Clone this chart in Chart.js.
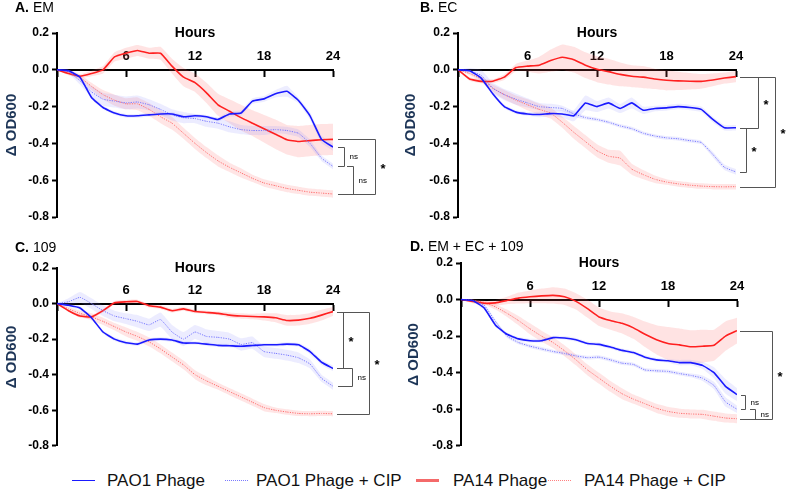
<!DOCTYPE html>
<html>
<head>
<meta charset="utf-8">
<script src="https://cdn.jsdelivr.net/npm/chart.js@4.4.0/dist/chart.umd.min.js"></script>
<style>
  body { margin: 0; background: #fff; width: 786px; height: 490px; position: relative; overflow: hidden;
         font-family: "Liberation Sans", Arial, sans-serif; }
  canvas { position: absolute; }
  .sw { position: absolute; height: 0; width: 23px; }
  .lt { position: absolute; font-size: 17px; color: #111; line-height: 20px; top: 471px; white-space: nowrap; }
</style>
</head>
<body>
<canvas id="cA" width="393" height="228" style="left:0;top:0"></canvas>
<canvas id="cB" width="393" height="228" style="left:393px;top:0"></canvas>
<canvas id="cC" width="393" height="228" style="left:0;top:228px"></canvas>
<canvas id="cD" width="393" height="228" style="left:393px;top:228px"></canvas>

<div class="sw" style="left:72px;top:480px;border-top:1.6px solid #1a1aff"></div>
<div class="lt" style="left:107px">PAO1 Phage</div>
<div class="sw" style="left:225px;top:480px;border-top:1px dotted #7a7aff"></div>
<div class="lt" style="left:256px">PAO1 Phage + CIP</div>
<div class="sw" style="left:416px;top:479px;border-top:3px solid #f46a6a"></div>
<div class="lt" style="left:453px">PA14 Phage</div>
<div class="sw" style="left:548px;top:480px;border-top:1px dotted #ff8080"></div>
<div class="lt" style="left:584px">PA14 Phage + CIP</div>

<script>
// time axis (hours)
const hours = [0,1,2,3,4,5,6,7,8,9,10,11,12,13,14,15,16,17,18,19,20,21,22,23,24];
const seriesNames = ['PAO1 Phage', 'PAO1 Phage + CIP', 'PA14 Phage', 'PA14 Phage + CIP'];

// A. EM
const emPAO1     = [0,-0.005,-0.04,-0.15,-0.205,-0.235,-0.25,-0.25,-0.245,-0.24,-0.24,-0.255,-0.25,-0.255,-0.27,-0.24,-0.235,-0.17,-0.158,-0.13,-0.117,-0.167,-0.25,-0.378,-0.42];
const emPAO1Cip  = [0,-0.01,-0.06,-0.12,-0.16,-0.17,-0.18,-0.175,-0.19,-0.215,-0.245,-0.26,-0.265,-0.28,-0.29,-0.31,-0.325,-0.33,-0.33,-0.325,-0.33,-0.345,-0.4,-0.48,-0.525];
const emPA14     = [0,-0.02,-0.035,-0.02,0,0.07,0.09,0.105,0.09,0.09,0.02,-0.04,-0.07,-0.125,-0.19,-0.225,-0.26,-0.29,-0.32,-0.35,-0.38,-0.39,-0.385,-0.38,-0.378];
const emPA14Cip  = [0,-0.01,-0.04,-0.09,-0.135,-0.165,-0.185,-0.185,-0.215,-0.255,-0.29,-0.345,-0.4,-0.45,-0.495,-0.53,-0.56,-0.59,-0.615,-0.63,-0.645,-0.655,-0.665,-0.67,-0.675];
const emPAO1Err    = [0,0.005,0.01,0.01,0.01,0.01,0.01,0.01,0.01,0.01,0.01,0.01,0.01,0.01,0.01,0.015,0.015,0.015,0.015,0.02,0.03,0.015,0.02,0.02,0.02];
const emPAO1CipErr = [0,0.01,0.02,0.03,0.035,0.035,0.035,0.035,0.03,0.03,0.03,0.03,0.025,0.03,0.03,0.03,0.025,0.025,0.025,0.02,0.02,0.02,0.02,0.015,0.015];
const emPA14Err    = [0,0.01,0.01,0.015,0.02,0.025,0.03,0.03,0.03,0.035,0.04,0.05,0.05,0.055,0.06,0.065,0.07,0.07,0.075,0.08,0.08,0.085,0.085,0.085,0.085];
const emPA14CipErr = [0,0.01,0.015,0.02,0.025,0.03,0.03,0.035,0.035,0.035,0.035,0.03,0.03,0.03,0.03,0.025,0.025,0.02,0.02,0.02,0.02,0.02,0.02,0.02,0.02];

// B. EC
const ecPAO1     = [0,-0.005,-0.045,-0.13,-0.2,-0.23,-0.24,-0.243,-0.238,-0.24,-0.25,-0.18,-0.2,-0.18,-0.21,-0.18,-0.22,-0.21,-0.207,-0.2,-0.205,-0.215,-0.27,-0.315,-0.315];
const ecPAO1Cip  = [0,-0.005,-0.03,-0.1,-0.135,-0.16,-0.18,-0.2,-0.205,-0.21,-0.24,-0.26,-0.27,-0.285,-0.305,-0.32,-0.345,-0.36,-0.37,-0.375,-0.385,-0.395,-0.46,-0.53,-0.555];
const ecPA14     = [0,-0.05,-0.063,-0.062,-0.04,0.012,0.02,0.025,0.05,0.068,0.055,0.025,0.003,-0.01,-0.025,-0.035,-0.04,-0.05,-0.057,-0.06,-0.062,-0.063,-0.055,-0.045,-0.037];
const ecPA14Cip  = [0,-0.02,-0.05,-0.1,-0.135,-0.165,-0.19,-0.215,-0.235,-0.285,-0.34,-0.39,-0.44,-0.47,-0.48,-0.54,-0.57,-0.595,-0.61,-0.62,-0.627,-0.632,-0.635,-0.636,-0.635];
const ecPAO1Err    = [0,0.005,0.01,0.01,0.01,0.01,0.01,0.015,0.015,0.02,0.03,0.04,0.03,0.03,0.025,0.03,0.02,0.015,0.015,0.015,0.015,0.015,0.015,0.015,0.015];
const ecPAO1CipErr = [0,0.015,0.03,0.03,0.03,0.03,0.025,0.02,0.02,0.015,0.015,0.01,0.01,0.01,0.01,0.01,0.01,0.01,0.01,0.01,0.01,0.01,0.015,0.015,0.015];
const ecPA14Err    = [0,0.01,0.01,0.01,0.015,0.02,0.03,0.045,0.06,0.07,0.07,0.07,0.07,0.07,0.065,0.06,0.06,0.055,0.055,0.05,0.045,0.04,0.035,0.03,0.03];
const ecPA14CipErr = [0,0.01,0.015,0.02,0.025,0.025,0.03,0.03,0.03,0.03,0.035,0.035,0.035,0.035,0.04,0.03,0.025,0.02,0.015,0.015,0.015,0.015,0.015,0.015,0.015];

// C. 109
const p109PAO1    = [0,-0.01,-0.025,-0.08,-0.16,-0.2,-0.22,-0.228,-0.205,-0.2,-0.205,-0.222,-0.222,-0.228,-0.235,-0.237,-0.24,-0.236,-0.232,-0.232,-0.228,-0.232,-0.27,-0.33,-0.365];
const p109PAO1Cip = [0,0.01,0.035,0,-0.04,-0.07,-0.085,-0.1,-0.12,-0.09,-0.16,-0.2,-0.16,-0.185,-0.19,-0.2,-0.23,-0.22,-0.27,-0.28,-0.29,-0.305,-0.34,-0.42,-0.465];
const p109PA14    = [0,-0.04,-0.07,-0.075,-0.04,0.005,0.01,0.012,-0.012,-0.02,-0.04,-0.03,-0.045,-0.05,-0.055,-0.065,-0.07,-0.073,-0.075,-0.08,-0.095,-0.093,-0.083,-0.065,-0.045];
const p109PA14Cip = [0,-0.03,-0.055,-0.075,-0.1,-0.13,-0.16,-0.185,-0.215,-0.255,-0.3,-0.345,-0.4,-0.435,-0.465,-0.495,-0.525,-0.555,-0.585,-0.6,-0.61,-0.618,-0.62,-0.618,-0.62];
const p109PAO1Err    = [0,0.01,0.01,0.01,0.01,0.01,0.01,0.01,0.01,0.01,0.01,0.01,0.01,0.01,0.01,0.01,0.01,0.01,0.01,0.01,0.01,0.01,0.015,0.015,0.015];
const p109PAO1CipErr = [0,0.02,0.03,0.03,0.03,0.03,0.03,0.035,0.035,0.04,0.04,0.04,0.04,0.04,0.035,0.035,0.035,0.035,0.03,0.03,0.03,0.03,0.025,0.02,0.02];
const p109PA14Err    = [0,0.005,0.01,0.01,0.01,0.01,0.01,0.01,0.01,0.01,0.01,0.01,0.01,0.01,0.01,0.015,0.015,0.015,0.02,0.025,0.03,0.03,0.03,0.03,0.025];
const p109PA14CipErr = [0,0.01,0.015,0.02,0.02,0.02,0.025,0.025,0.025,0.025,0.025,0.025,0.025,0.025,0.02,0.02,0.02,0.02,0.02,0.015,0.015,0.015,0.015,0.015,0.015];

// D. EM + EC + 109
const mixPAO1    = [0,-0.005,-0.045,-0.14,-0.19,-0.215,-0.225,-0.225,-0.208,-0.21,-0.22,-0.24,-0.245,-0.26,-0.278,-0.29,-0.315,-0.33,-0.335,-0.345,-0.345,-0.36,-0.4,-0.475,-0.52];
const mixPAO1Cip = [0,-0.005,-0.03,-0.12,-0.2,-0.235,-0.255,-0.27,-0.284,-0.295,-0.308,-0.318,-0.315,-0.33,-0.348,-0.355,-0.385,-0.39,-0.393,-0.405,-0.415,-0.43,-0.47,-0.56,-0.6];
const mixPA14    = [0,-0.01,-0.02,-0.018,-0.005,0.008,0.015,0.02,0.023,0.015,-0.01,-0.05,-0.095,-0.115,-0.13,-0.155,-0.19,-0.22,-0.24,-0.248,-0.258,-0.255,-0.25,-0.2,-0.17];
const mixPA14Cip = [0,-0.005,-0.015,-0.04,-0.075,-0.115,-0.16,-0.2,-0.235,-0.28,-0.33,-0.385,-0.43,-0.475,-0.515,-0.545,-0.57,-0.595,-0.612,-0.622,-0.626,-0.628,-0.638,-0.648,-0.652];
const mixPAO1Err    = [0,0.005,0.01,0.01,0.01,0.01,0.01,0.01,0.01,0.01,0.01,0.01,0.01,0.01,0.01,0.01,0.01,0.01,0.01,0.015,0.015,0.02,0.03,0.04,0.035];
const mixPAO1CipErr = [0,0.005,0.01,0.01,0.01,0.01,0.01,0.01,0.01,0.01,0.01,0.01,0.01,0.01,0.01,0.01,0.01,0.01,0.01,0.01,0.01,0.015,0.02,0.025,0.02];
const mixPA14Err    = [0,0.01,0.01,0.015,0.02,0.03,0.035,0.04,0.045,0.045,0.045,0.05,0.05,0.05,0.055,0.06,0.07,0.08,0.09,0.09,0.09,0.09,0.085,0.08,0.07];
const mixPA14CipErr = [0,0.005,0.01,0.015,0.02,0.025,0.03,0.03,0.03,0.03,0.03,0.03,0.03,0.03,0.03,0.025,0.025,0.025,0.025,0.025,0.025,0.025,0.025,0.025,0.025];

const yTicks = [-0.8, -0.6, -0.4, -0.2, 0.0, 0.2];
const xTicks = [6, 12, 18, 24];

const lineStyles = [
  { color: '#1a1aff', width: 1.6, dash: [] },
  { color: '#7878ff', width: 1, dash: [1.2, 1.2] },
  { color: '#ff2020', width: 1.6, dash: [] },
  { color: '#ff7070', width: 1, dash: [1.2, 1.2] }
];
const bandFills = [
  'rgba(110,110,255,0.12)',
  'rgba(120,120,255,0.14)',
  'rgba(255,90,90,0.17)',
  'rgba(255,100,100,0.17)'
];

// draws panel heading, "Hours" and the significance brackets
const annotate = {
  id: 'annotate',
  afterDraw(chart) {
    const o = chart.options.plugins.annotate;
    const ctx = chart.ctx;
    const xs = chart.scales.x, ys = chart.scales.y;
    ctx.save();
    ctx.fillStyle = '#000';
    ctx.textBaseline = 'middle';
    ctx.font = 'bold 14px "Liberation Sans", Arial';
    ctx.fillText(o.letter, o.tx, o.ty);
    const w = ctx.measureText(o.letter + ' ').width;
    ctx.font = '14px "Liberation Sans", Arial';
    ctx.fillText(o.name, o.tx + w, o.ty);

    ctx.textAlign = 'center';
    ctx.font = 'bold 14px "Liberation Sans", Arial';
    ctx.fillText('Hours', xs.getPixelForValue(12), ys.getPixelForValue(0.2));

    const right = xs.getPixelForValue(24);
    ctx.strokeStyle = '#555';
    ctx.lineWidth = 1;
    ctx.textAlign = 'left';
    o.brackets.forEach(b => {
      const pts1 = chart.getDatasetMeta(b[0]).data, pts2 = chart.getDatasetMeta(b[1]).data;
      const y1 = Math.round(pts1[pts1.length - 1].y) + 0.5;
      const y2 = Math.round(pts2[pts2.length - 1].y) + 0.5;
      const xa = right + b[2], xv = Math.round(right + b[3]) + 0.5;
      ctx.beginPath();
      ctx.moveTo(xa, y1); ctx.lineTo(xv, y1); ctx.lineTo(xv, y2); ctx.lineTo(xa, y2);
      ctx.stroke();
      if (b[4] === '*') {
        ctx.font = 'bold 13px "Liberation Sans", Arial';
        ctx.fillText('*', xv + 5, (y1 + y2) / 2 + 2);
      } else {
        ctx.font = '8px "Liberation Sans", Arial';
        ctx.fillText(b[4], xv + 5, (y1 + y2) / 2);
      }
    });
    ctx.restore();
  }
};

function makePanel(id, series, errs, p) {
  const datasets = series.map((s, i) => ({
    label: seriesNames[i],
    data: s,
    borderColor: lineStyles[i].color,
    borderWidth: lineStyles[i].width,
    borderDash: lineStyles[i].dash,
    pointRadius: 0,
    tension: 0.12,
    fill: false,
    order: 0
  }));
  errs.forEach((e, i) => {
    datasets.push({ data: series[i].map((v, k) => v + e[k]), borderWidth: 0, borderColor: 'transparent',
      pointRadius: 0, tension: 0.12, fill: false, order: 1 });
    datasets.push({ data: series[i].map((v, k) => v - e[k]), borderWidth: 0, borderColor: 'transparent',
      pointRadius: 0, tension: 0.12, fill: '-1', backgroundColor: bandFills[i], order: 1 });
  });

  new Chart(document.getElementById(id), {
    type: 'line',
    data: { labels: hours, datasets },
    options: {
      responsive: false,
      animation: false,
      devicePixelRatio: 1,
      events: [],
      layout: { padding: p.padding },
      plugins: {
        legend: { display: false },
        tooltip: { enabled: false },
        annotate: p
      },
      scales: {
        x: {
          type: 'linear', min: 0, max: 24,
          position: { y: 0 },
          border: { color: '#000', width: 2 },
          grid: { drawOnChartArea: false, tickLength: 6, tickWidth: 2, tickColor: '#000' },
          afterBuildTicks: s => { s.ticks = [0].concat(xTicks).map(v => ({ value: v })); },
          ticks: {
            padding: -27, color: '#000', maxRotation: 0, autoSkip: false,
            font: { family: '"Liberation Sans", Arial', weight: 'bold', size: 13 },
            callback: v => v === 0 ? '' : String(v)
          }
        },
        y: {
          min: -0.8, max: 0.2,
          border: { color: '#000', width: 2 },
          grid: { drawOnChartArea: false, tickLength: 5, tickWidth: 2, tickColor: '#000' },
          afterBuildTicks: s => { s.ticks = yTicks.map(v => ({ value: v })); },
          ticks: {
            padding: 3, color: '#000',
            font: { family: '"Liberation Sans", Arial', weight: 'bold', size: 12 },
            callback: v => Math.abs(v) < 1e-9 ? '0.0' : v.toFixed(1)
          },
          title: {
            display: true, text: 'Δ OD600', color: '#1d3557',
            font: { family: '"Liberation Sans", Arial', weight: 'bold', size: 15 },
            padding: { top: p.titlePad, bottom: 0 }
          },
          afterFit: s => { s.width = p.yWidth; }
        }
      }
    },
    plugins: [annotate]
  });
}

// bracket: [from series, to series, arm start offset, vertical offset, label]
makePanel('cA', [emPAO1, emPAO1Cip, emPA14, emPA14Cip],
  [emPAO1Err, emPAO1CipErr, emPA14Err, emPA14CipErr],
  { letter: 'A.', name: 'EM', tx: 15, ty: 8, yWidth: 57, titlePad: 2.5,
    padding: { left: 0, top: 33, right: 60, bottom: 11 },
    brackets: [[2, 3, 5, 42, '*'], [0, 1, 5, 11, 'ns'], [1, 3, 14, 20, 'ns']] });

makePanel('cB', [ecPAO1, ecPAO1Cip, ecPA14, ecPA14Cip],
  [ecPAO1Err, ecPAO1CipErr, ecPA14Err, ecPA14CipErr],
  { letter: 'B.', name: 'EC', tx: 27, ty: 8, yWidth: 65, titlePad: 8.5,
    padding: { left: 0, top: 33, right: 50, bottom: 11 },
    brackets: [[2, 0, 4, 22, '*'], [0, 1, 4, 10, '*'], [2, 3, 4, 39, '*']] });

makePanel('cC', [p109PAO1, p109PAO1Cip, p109PA14, p109PA14Cip],
  [p109PAO1Err, p109PAO1CipErr, p109PA14Err, p109PA14CipErr],
  { letter: 'C.', name: '109', tx: 15, ty: 20, yWidth: 57, titlePad: 2.5,
    padding: { left: 0, top: 40, right: 60, bottom: 4 },
    brackets: [[2, 0, 4, 10, '*'], [0, 1, 5, 19, 'ns'], [2, 3, 4, 36, '*']] });

makePanel('cD', [mixPAO1, mixPAO1Cip, mixPA14, mixPA14Cip],
  [mixPAO1Err, mixPAO1CipErr, mixPA14Err, mixPA14CipErr],
  { letter: 'D.', name: 'EM + EC + 109', tx: 17, ty: 19, yWidth: 68, titlePad: 11.5,
    padding: { left: 0, top: 35, right: 49, bottom: 8 },
    brackets: [[2, 3, 3, 35, '*'], [0, 1, 4, 8, 'ns'], [1, 3, 13, 18, 'ns']] });
</script>
</body>
</html>
